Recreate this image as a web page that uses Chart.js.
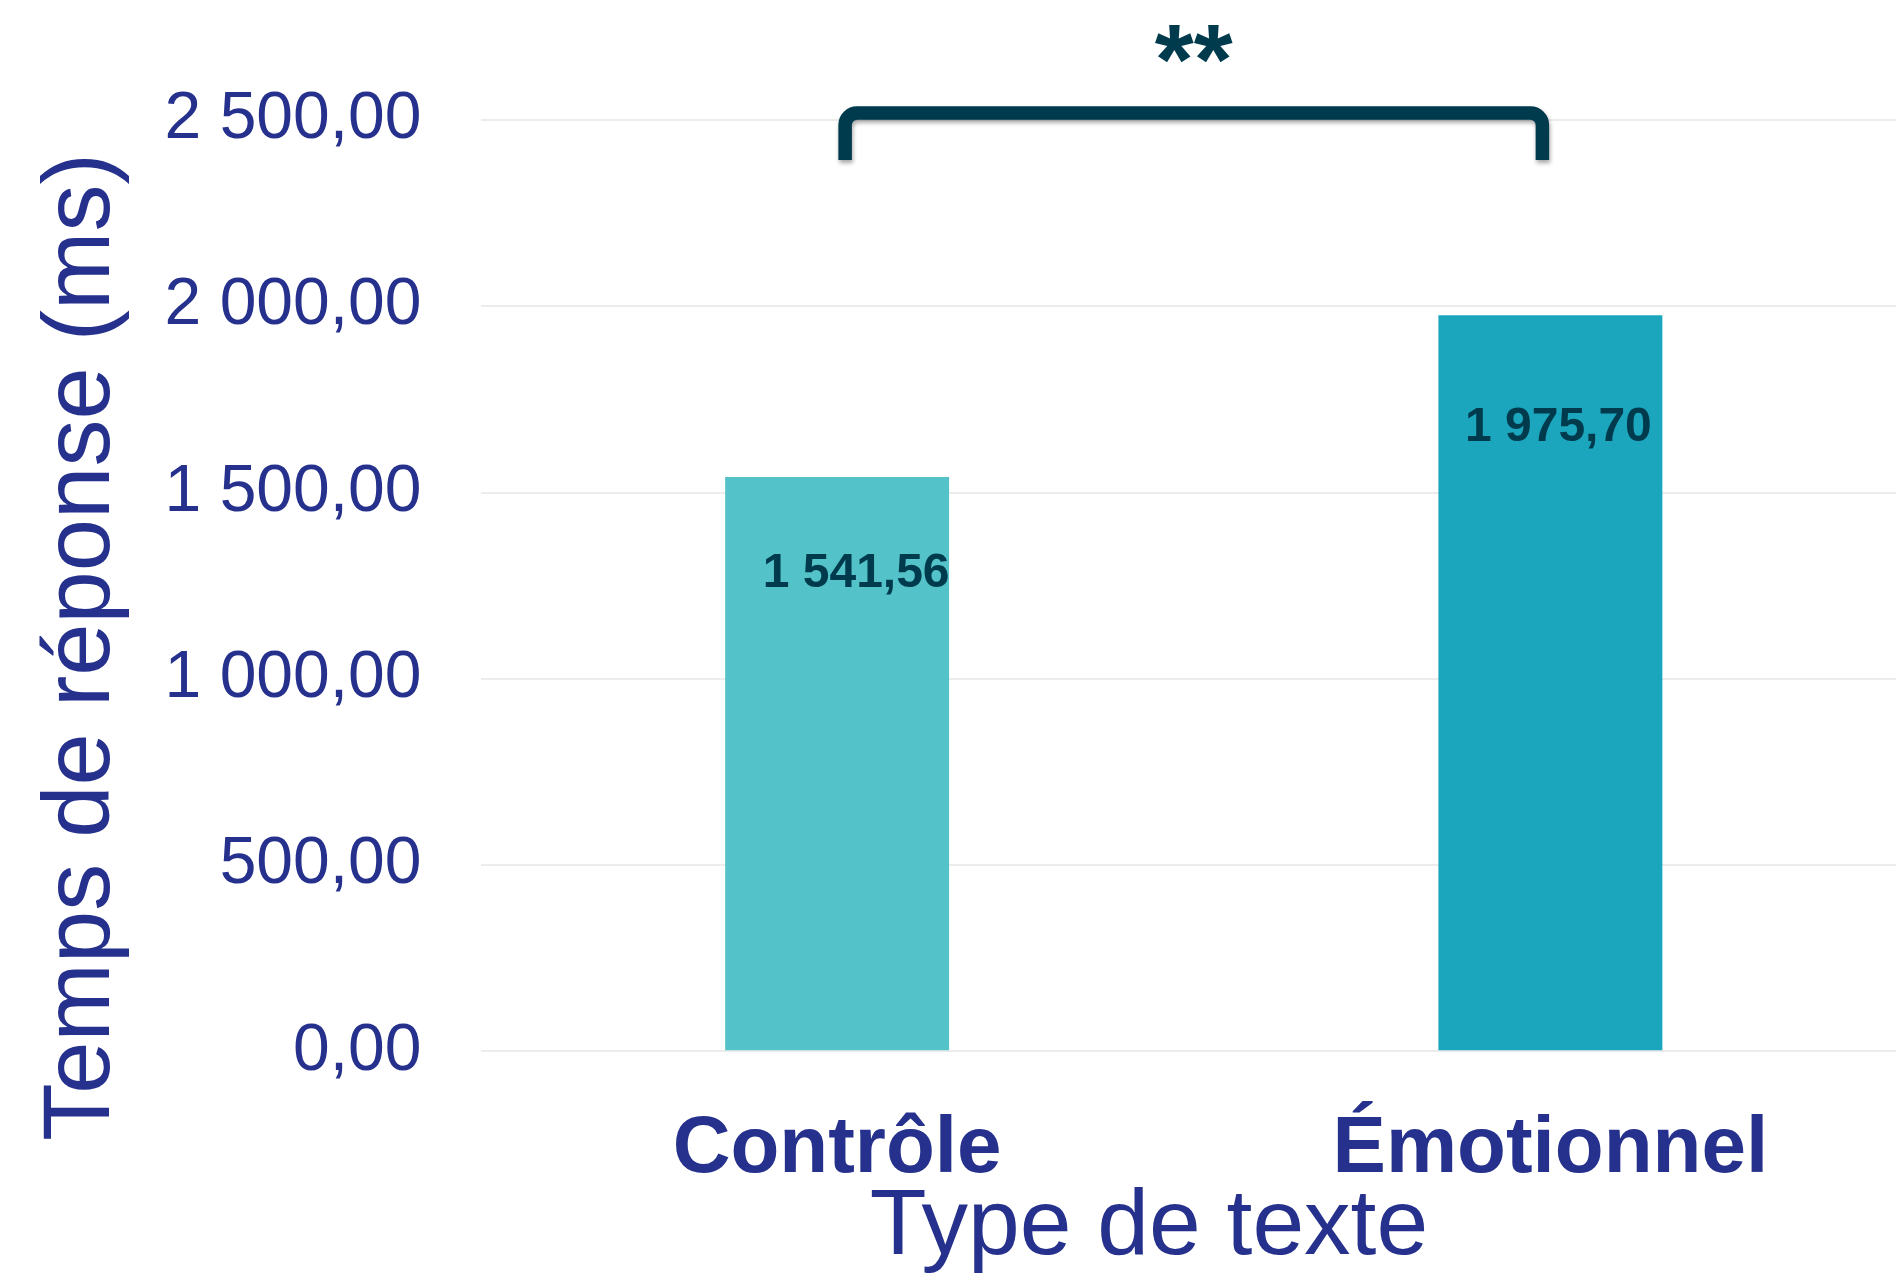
<!DOCTYPE html>
<html><head><meta charset="utf-8">
<script src="https://cdn.jsdelivr.net/npm/chart.js"></script>
<style>html,body{margin:0;padding:0;background:#fff;overflow:hidden}canvas{display:block}</style>
</head><body>
<canvas id="c" width="1907" height="1274"></canvas>
<script>
const categories = ['Contrôle', 'Émotionnel'];
const values = [1541.56, 1975.70];
const barColors = ['#53c3c9', '#1ba6bd'];
const yTickLabels = ['0,00', '500,00', '1 000,00', '1 500,00', '2 000,00', '2 500,00'];
const yTitle = 'Temps de réponse (ms)';
const xTitle = 'Type de texte';
const significance = '**';

const FONT = "'Liberation Sans', Arial, sans-serif";
const TEXT = '#25318c';
const DARK = '#003a4d';

function fmt(v) {
  const parts = v.toFixed(2).split('.');
  return parts[0].replace(/\B(?=(\d{3})+(?!\d))/g, ' ') + ',' + parts[1];
}

const overlay = {
  id: 'overlay',
  afterDatasetsDraw(chart) {
    const ctx = chart.ctx;
    const meta = chart.getDatasetMeta(0);
    const area = chart.chartArea;
    // data labels
    const dx = [19, 8], dy = [110, 126];
    ctx.save();
    ctx.font = 'bold 48px ' + FONT;
    ctx.fillStyle = DARK;
    ctx.textAlign = 'center';
    ctx.textBaseline = 'alphabetic';
    meta.data.forEach((bar, i) => {
      ctx.fillText(fmt(values[i]), bar.x + dx[i], bar.y + dy[i]);
    });
    ctx.restore();

    // significance bracket
    const xl = meta.data[0].x + 8, xr = meta.data[1].x - 8;
    const yTop = area.top - 7, yBot = area.top + 40, r = 12;
    ctx.save();
    ctx.strokeStyle = DARK;
    ctx.lineWidth = 13.5;
    ctx.lineJoin = 'round';
    ctx.shadowColor = 'rgba(0,0,0,0.35)';
    ctx.shadowBlur = 4;
    ctx.shadowOffsetX = 1;
    ctx.shadowOffsetY = 3;
    ctx.beginPath();
    ctx.moveTo(xl, yBot);
    ctx.lineTo(xl, yTop + r);
    ctx.arcTo(xl, yTop, xl + r, yTop, r);
    ctx.lineTo(xr - r, yTop);
    ctx.arcTo(xr, yTop, xr, yTop + r, r);
    ctx.lineTo(xr, yBot);
    ctx.stroke();
    ctx.restore();

    ctx.save();
    ctx.font = 'bold 100px ' + FONT;
    ctx.fillStyle = DARK;
    ctx.textAlign = 'center';
    ctx.textBaseline = 'alphabetic';
    ctx.fillText(significance, (xl + xr) / 2, 94);
    ctx.restore();

    // axis titles
    ctx.save();
    ctx.fillStyle = TEXT;
    ctx.textAlign = 'center';
    ctx.textBaseline = 'alphabetic';
    ctx.font = '93px ' + FONT;
    ctx.fillText(xTitle, 1149, 1254);
    ctx.font = '94px ' + FONT;
    ctx.translate(109, 647);
    ctx.rotate(-Math.PI / 2);
    ctx.fillText(yTitle, 0, 0);
    ctx.restore();
  }
};

new Chart(document.getElementById('c'), {
  type: 'bar',
  data: {
    labels: categories,
    datasets: [{
      data: values,
      backgroundColor: barColors,
      borderWidth: 0,
      barPercentage: 0.314,
      categoryPercentage: 1
    }]
  },
  options: {
    responsive: false,
    animation: false,
    devicePixelRatio: 1,
    layout: { padding: { top: 120, left: 0, right: 0, bottom: 0 } },
    plugins: { legend: { display: false }, tooltip: { enabled: false } },
    scales: {
      x: {
        grid: { display: false },
        border: { display: false },
        ticks: { color: TEXT, font: { family: FONT, size: 80, weight: 'bold' }, padding: 43, maxRotation: 0 },
        afterFit(s) { s.height = 222.7; }
      },
      y: {
        min: 0, max: 2500,
        grid: { color: '#ececec', lineWidth: 2, drawTicks: false },
        border: { display: false },
        ticks: {
          stepSize: 500,
          padding: 59,
          color: TEXT,
          font: { family: FONT, size: 66 },
          callback: (v, i) => yTickLabels[i]
        },
        afterFit(s) { s.width = 480.5; }
      }
    }
  },
  plugins: [overlay]
});
</script>
</body></html>
